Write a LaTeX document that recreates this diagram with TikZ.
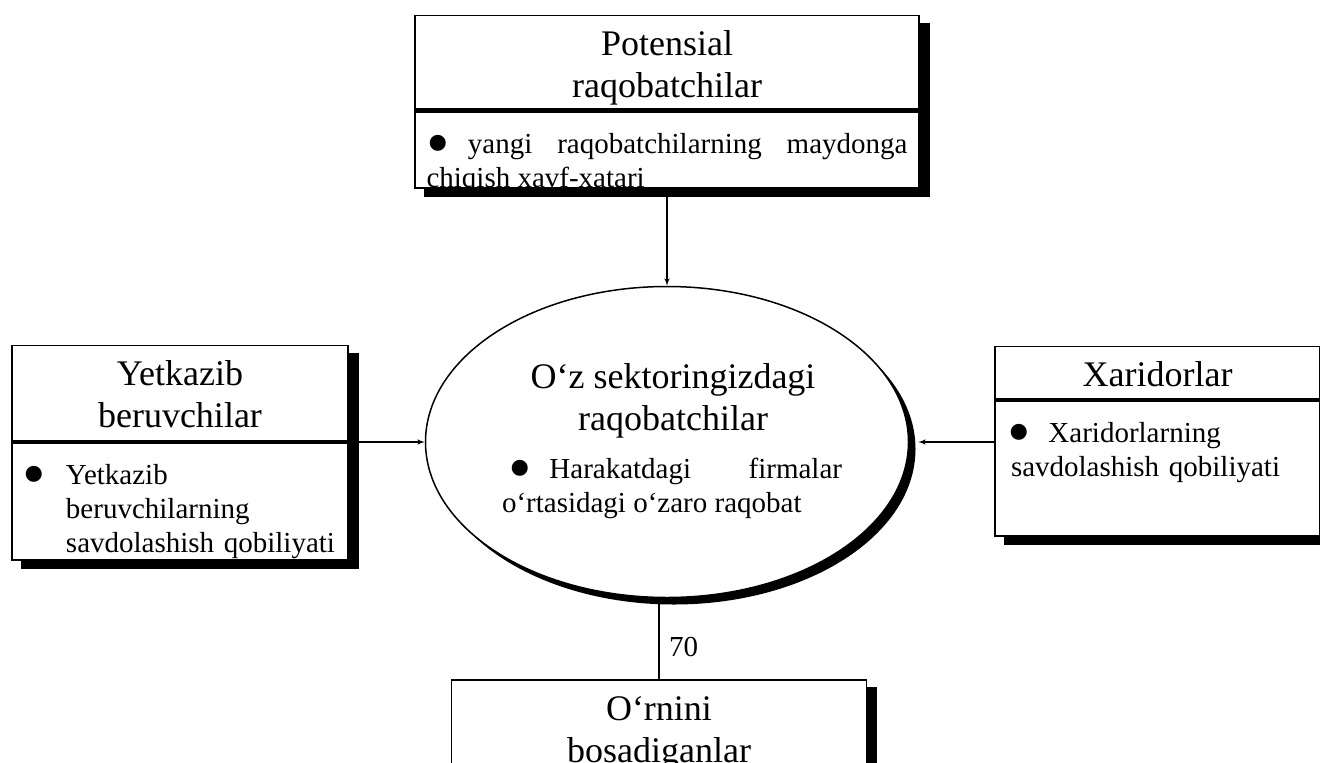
\documentclass[tikz,border=0pt]{standalone}
\usepackage{fontspec}
\setmainfont{Liberation Serif}
\usetikzlibrary{shapes, arrows, positioning, shadows, backgrounds}
\hyphenpenalty=10000
\exhyphenpenalty=10000
\newcommand{\titlesize}{\fontsize{36pt}{42pt}\selectfont}
\newcommand{\bodysize}{\fontsize{29pt}{34pt}\selectfont}
\newcommand{\bul}{\smash{\raisebox{-12pt}{\fontsize{67pt}{67pt}\selectfont\textbullet}}}

\begin{document}
\begin{tikzpicture}[node distance=0pt, auto]
\tikzset{
    mytitle/.style={rectangle, draw=black, line width=1.5pt, fill=white, inner xsep=12pt, inner ysep=6pt, text height=34pt, align=center, font=\titlesize},
    mybody/.style={rectangle, draw=black, line width=1.5pt, fill=white, inner ysep=6pt, text height=36pt, font=\bodysize},
    myoval/.style={ellipse, draw=black, line width=1.5pt, fill=white, inner sep=0pt, minimum width=483pt, minimum height=311pt, drop shadow={shadow xshift=7pt, shadow yshift=-7pt, opacity=1, fill=black}},
    myshadow/.style={fill=black},
    mydivider/.style={line width=4.5pt},
    myarrow/.style={->, >=latex', line width=1.5pt},
    myline/.style={line width=1.5pt}
}
\path[use as bounding box] (0pt,0pt) rectangle (1320pt,-763pt);
\node[myoval] (sector) at (667pt,-442pt) {};
\node[font=\titlesize, align=center, anchor=base] (sector_t) at ([shift={(6pt,12pt)}]sector.center) {O‘z sektoringizdagi\\raqobatchilar};
\node[font=\bodysize, text width=340pt, align=justify, anchor=base, inner sep=0pt] (sector_b) at ([shift={(5pt,-36pt)}]sector.center) {\hspace*{6pt}\bul\hspace{18pt}Harakatdagi firmalar o‘rtasidagi o‘zaro raqobat};
\node[mybody, above=97pt of sector, text width=481pt, inner xsep=11.5pt, text depth=29pt, align=justify] (pot_b) {\bul\hspace{18pt}yangi raqobatchilarning maydonga chiqish xavf-xatari};
\node[mytitle, above=0pt of pot_b, text width=480pt, text depth=48pt] (pot_t) {Potensial\\raqobatchilar};
\node[mytitle, above left=0pt and 76pt of sector.west, text width=312pt, text depth=50pt] (sup_t) {Yetkazib\\beruvchilar};
\node[mybody, below=0pt of sup_t, text width=328pt, inner xsep=4pt, text depth=69pt, align=left] (sup_b) {\makebox[50pt][l]{\hspace{6pt}\bul}\parbox[t]{278pt}{\raggedright Yetkazib beruvchilarning savdolashish qobiliyati}};
\node[mytitle, above right=42pt and 85pt of sector.east, text width=301pt, text depth=7pt] (buy_t) {Xaridorlar};
\node[mybody, below=0pt of buy_t, text width=293pt, inner xsep=16pt, text depth=87pt, align=left] (buy_b) {\hspace*{-4pt}\bul\hspace{18pt}Xaridorlarning savdolashish qobiliyati};
\node[mytitle, below=81pt of sector, xshift=-8pt, text width=391pt, text depth=80pt] (sub_t) {O‘rnini\\bosadiganlar};
\begin{scope}[on background layer]
\fill[white] (0pt,0pt) rectangle (1320pt,-763pt);
\fill[myshadow] ([shift={(10pt,-8pt)}]pot_t.north west) rectangle ([shift={(10pt,-8pt)}]pot_b.south east);
\fill[myshadow] ([shift={(10pt,-8pt)}]sup_t.north west) rectangle ([shift={(10pt,-8pt)}]sup_b.south east);
\fill[myshadow] ([shift={(10pt,-8pt)}]buy_t.north west) rectangle ([shift={(10pt,-8pt)}]buy_b.south east);
\fill[myshadow] ([shift={(10pt,-8pt)}]sub_t.north west) rectangle ([shift={(10pt,-8pt)}]sub_t.south east);
\end{scope}
\draw[mydivider] (pot_t.south west) -- (pot_t.south east);
\draw[mydivider] (sup_t.south west) -- (sup_t.south east);
\draw[mydivider] (buy_t.south west) -- (buy_t.south east);
\draw[myarrow] (pot_b) -- (sector);
\draw[myarrow] (sup_t.south east) -- (sector.west);
\draw[myarrow, shorten >=9pt] (buy_b.west |- sector.east) -- (sector.east);
\draw[myline] (sub_t.north |- sector.south) -- node[pos=0.6, right, xshift=6pt, font=\bodysize] (lbl_70) {70} (sub_t.north);
\end{tikzpicture}
\end{document}
